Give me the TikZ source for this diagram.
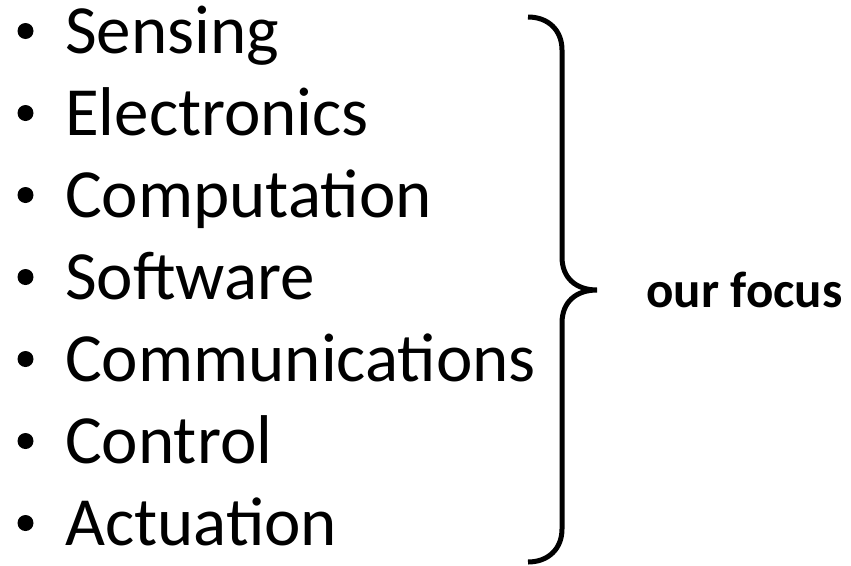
\documentclass[tikz,border=0pt]{standalone}
\usepackage{fontspec}
\setmainfont{Carlito}
\begin{document}
\begin{tikzpicture}[x=1pt,y=-1pt,
  itemtext/.style={anchor=base west,inner sep=0pt,font=\fontsize{69}{72}\selectfont},
  dot/.style={circle,fill=black,inner sep=0pt,minimum size=16pt},
  bracepath/.style={line width=5pt,line join=miter}]
\useasboundingbox (0,0) rectangle (851,565);
\foreach \name/\txt [count=\i from 0] in {sense/Sensing,elec/Electronics,comp/Computation,soft/Software,comm/Communications,ctrl/Control,act/Actuation}{
  \node[dot] (b\name) at (25.5,31+82*\i) {};
  \node[itemtext] (\name) at (65,53+82*\i) {\txt};
}
\coordinate (btop) at (528,17);
\coordinate (btip) at (597,290);
\coordinate (bbot) at (528,562);
\draw[bracepath] (btop) .. controls (548,17) and (562,30) .. (562,50) -- (562,257)
  .. controls (562,278) and (576,290) .. (btip)
  .. controls (576,290) and (562,302) .. (562,323) -- (562,529)
  .. controls (562,549) and (548,562) .. (bbot);
\node[anchor=base west,inner sep=0pt,font=\fontsize{51}{54}\selectfont\bfseries] (focus) at (646,307) {our focus};
\end{tikzpicture}
\end{document}
